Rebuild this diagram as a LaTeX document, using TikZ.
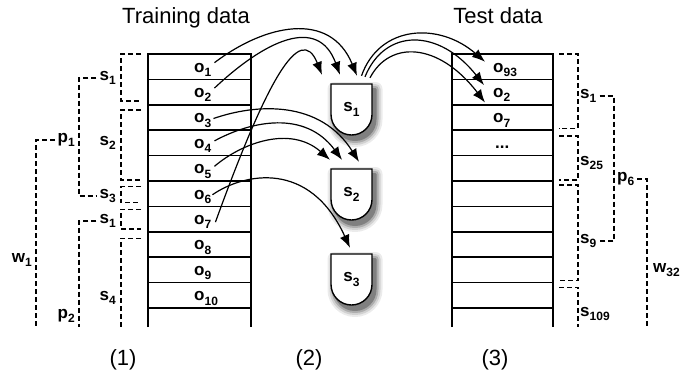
\documentclass[tikz,border=0pt]{standalone}
\usepackage{fontspec}
\setmainfont{Liberation Sans}
\usetikzlibrary{arrows.meta}

\newcommand{\sublab}[2]{#1\raisebox{-4.5pt}{\fontsize{12}{12}\selectfont #2}}
\newcommand{\slotpath}[2]{({#1-20.5},{#2-25.5}) -- ++(41,0) -- ++(0,30.5)
  .. controls +(0,11.3) and +(11.3,0) .. ++(-20.5,20.5)
  .. controls +(-11.3,0) and +(0,11.3) .. ++(-20.5,-20.5) -- cycle}

\begin{document}
\begin{tikzpicture}[
  x=1pt,y=-1pt,
  every node/.style={font=\fontsize{17}{19}\selectfont\bfseries,inner sep=1pt},
  title/.style={font=\fontsize{22}{24}\selectfont,anchor=base},
  grid/.style={line width=1.5pt},
  brk/.style={dash pattern=on 5pt off 3pt,line width=1.1pt},
  brklab/.style={inner sep=3pt},
  flow/.style={-{Latex[length=13pt,width=10pt]},line width=1.2pt},
  slot/.style={minimum width=41pt,minimum height=51pt,inner sep=0pt},
  slotline/.style={draw=black,line width=1.4pt,fill=white},
  slotshade/.style={line join=round}
]
  \useasboundingbox (0,0) rectangle (691,373);

  % Titles and column captions.
  \node[title] (trainT) at (186,23) {Training data};
  \node[title] (testT) at (498,23) {Test data};
  \node[title] (cap1) at (123,365) {(1)};
  \node[title] (cap2) at (309,365) {(2)};
  \node[title] (cap3) at (495,365) {(3)};

  % Both tables, open at the bottom.
  \foreach \xl/\xr in {148/251,452/553} {
    \draw[grid] (\xl,327) -- (\xl,54) -- (\xr,54) -- (\xr,327);
    \foreach \k in {1,...,10}
      \draw[grid] (\xl,{54+25.4*\k}) -- (\xr,{54+25.4*\k});
  }

  % Training objects.
  \foreach \k in {1,...,10}
    \node[anchor=base west] (o\k) at (193,{72+25.4*(\k-1)}) {\sublab{o}{\k}};

  % Test objects.
  \node[anchor=base west] (t1) at (492,72) {\sublab{o}{93}};
  \node[anchor=base west] (t2) at (492,97.4) {\sublab{o}{2}};
  \node[anchor=base west] (t3) at (492,122.8) {\sublab{o}{7}};
  \node[anchor=base west] (tdots) at (494,148) {...};

  % Slots s1..s3 with a soft shadow.
  \foreach \k/\y in {1/109.5,2/194.5,3/279.5} {
    \path[slotshade,fill=black!8,draw=black!8,line width=14pt] \slotpath{355}{\y+5};
    \path[slotshade,fill=black!18,draw=black!18,line width=10pt] \slotpath{355}{\y+5};
    \path[slotshade,fill=black!32,draw=black!32,line width=6pt] \slotpath{355}{\y+5};
    \path[slotshade,fill=black!50,draw=black!50,line width=2pt] \slotpath{355}{\y+5};
    \path[slotline] \slotpath{351.5}{\y};
    \node[slot] (m\k) at (351.5,\y) {\sublab{s}{\k}};
  }

  % Training objects into slots.
  \draw[flow] ([shift={(2,-7)}]o1.east) .. controls +(50,-38) and +(-27,-66) .. ([shift={(5.5,-8)}]m1.north);
  \draw[flow] ([shift={(2,-7)}]o2.east) .. controls +(50,-47) and +(-22,-60) .. ([shift={(-11.5,-9)}]m1.north);
  \draw[flow] ([shift={(3,0)}]o7.east) .. controls +(50,-138) and +(-22,-55) .. ([shift={(-29.5,-9)}]m1.north);
  \draw[flow] ([shift={(1,-2)}]o3.east) .. controls +(43,-15) and +(-39,-62) .. ([shift={(7.5,-7)}]m2.north);
  \draw[flow] ([shift={(2,-5)}]o4.east) .. controls +(37,-20) and +(-37,-50) .. ([shift={(-9.5,-9)}]m2.north);
  \draw[flow] ([shift={(2,-5)}]o5.east) .. controls +(27,-23) and +(-40,-35) .. ([shift={(-21.5,-9)}]m2.north);
  \draw[flow] ([shift={(0,-2)}]o6.east) .. controls +(32,-22) and +(-40,-88) .. ([shift={(-1.5,-6)}]m3.north);

  % Slot s1 out to test objects.
  \draw[flow] ([shift={(10,-8)}]m1.north) .. controls +(18,-51) and +(-46,-40) .. ([shift={(-7,-8)}]t1.west);
  \draw[flow] ([shift={(13.5,-7)}]m1.north) .. controls +(20,-49) and +(-45,-57) .. ([shift={(-8,-10)}]t2.west);
  \draw[flow] ([shift={(18.5,-6)}]m1.north) .. controls +(20,-38) and +(-46,-60) .. ([shift={(-7,-18)}]t3.west);

  % Left segment brackets.
  \foreach \ya/\yb in {54/101,110/180,186.7/202.3,209.3/229}
    \draw[brk] (141,\ya) -| (121,\yb) -- (141,\yb);
  \draw[brk] (141,238.3) -| (121,327);
  \node[brklab,anchor=east] (ls1) at (119,78) {\sublab{s}{1}};
  \node[brklab,anchor=east] (ls2) at (119,143) {\sublab{s}{2}};
  \node[brklab,anchor=east] (ls3) at (119,196) {\sublab{s}{3}};
  \node[brklab,anchor=east] (ls1b) at (119,221) {\sublab{s}{1}};
  \node[brklab,anchor=east] (ls4) at (119,298) {\sublab{s}{4}};

  \draw[brk] (ls1.west) -| (79,140) |- (ls3.west);
  \draw[brk] (ls1b.west) -| (79,327);
  \node[brklab,anchor=east] (lp1) at (78,140) {\sublab{p}{1}};
  \node[brklab,anchor=east] (lp2) at (78,316) {\sublab{p}{2}};

  \draw[brk] (lp1.west) -| (36,327);
  \node[brklab,anchor=east] (lw1) at (35,260) {\sublab{w}{1}};

  % Right segment brackets.
  \foreach \ya/\yb in {54/128.3,136/180,185/280.7}
    \draw[brk] (559,\ya) -| (578,\yb) -- (559,\yb);
  \draw[brk] (559,287.3) -| (578,327);
  \node[brklab,anchor=west] (rs1) at (577,96) {\sublab{s}{1}};
  \node[brklab,anchor=west] (rs25) at (577,163) {\sublab{s}{25}};
  \node[brklab,anchor=west] (rs9) at (577,241) {\sublab{s}{9}};
  \node[brklab,anchor=west] (rs109) at (577,314) {\sublab{s}{109}};

  \draw[brk] (rs1.east) -| (614,160) |- (rs9.east);
  \node[brklab,anchor=west] (rp6) at (614,179) {\sublab{p}{6}};

  \draw[brk] (rp6.east) -| (647,327);
  \node[brklab,anchor=west] (rw32) at (650,270) {\sublab{w}{32}};
\end{tikzpicture}
\end{document}
